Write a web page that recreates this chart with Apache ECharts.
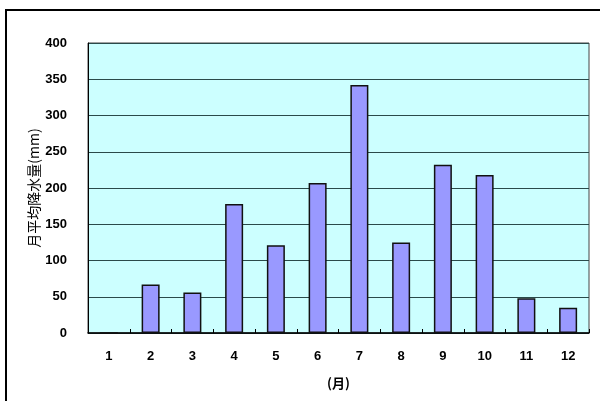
<!DOCTYPE html>
<html><head><meta charset="utf-8">
<script src="https://cdn.jsdelivr.net/npm/echarts@6/dist/echarts.min.js"></script>
<style>html,body{margin:0;padding:0;background:#fff}#c{width:600px;height:401px}</style>
</head><body><div id="c"></div>
<script>
const months = ['1','2','3','4','5','6','7','8','9','10','11','12'];
const rainfall = [0, 67, 56, 178, 121, 207, 342, 125, 232, 218, 48, 35];
const yTicks = {min: 0, max: 400, interval: 50};
const yName = '月平均降水量(mm)';
const xName = '(月)';

const chart = echarts.init(document.getElementById('c'), null, {renderer: 'canvas'});
chart.setOption({
  animation: false,
  backgroundColor: '#ffffff',
  graphic: [{
    type: 'rect', shape: {x: 6, y: 10, width: 640, height: 440},
    style: {fill: 'none', stroke: '#000', lineWidth: 2}, z: 0
  }],
  grid: {left: 88, top: 43, width: 501, height: 290, show: true,
    backgroundColor: '#ccffff', borderColor: '#444', borderWidth: 1},
  xAxis: {
    type: 'category', data: months, boundaryGap: true,
    name: xName, nameLocation: 'middle', nameGap: 44,
    nameTextStyle: {fontFamily: 'Noto Sans CJK JP', fontSize: 13, fontWeight: 'bold', color: '#000'},
    axisLine: {lineStyle: {color: '#000', width: 1.5}},
    axisTick: {show: true, inside: true, length: 4, lineStyle: {color: '#000'}},
    axisLabel: {fontFamily: 'Liberation Sans', fontWeight: 'bold', fontSize: 13, color: '#000', margin: 17}
  },
  yAxis: {
    type: 'value', min: yTicks.min, max: yTicks.max, interval: yTicks.interval,
    name: yName, nameLocation: 'middle', nameGap: 47, nameMoveOverlap: false,
    nameTextStyle: {fontFamily: 'Noto Sans CJK JP', fontSize: 14, color: '#000'},
    axisLine: {show: true, lineStyle: {color: '#000', width: 1}},
    axisTick: {show: false},
    splitLine: {show: true, lineStyle: {color: '#2a4a4a', width: 1}},
    axisLabel: {fontFamily: 'Liberation Sans', fontWeight: 'bold', fontSize: 13, color: '#000', margin: 21}
  },
  series: [{
    type: 'bar', data: rainfall, barWidth: 18,
    itemStyle: {color: '#9999ff', borderColor: '#111', borderWidth: 1.5}
  }]
});
</script></body></html>
